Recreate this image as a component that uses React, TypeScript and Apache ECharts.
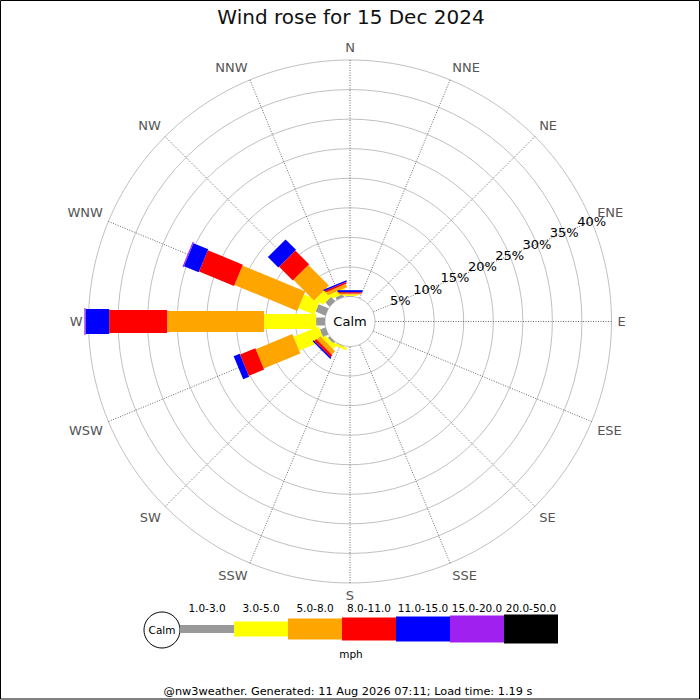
import React, { useEffect, useRef } from "react";
import * as echarts from "echarts";

const TITLE = "Wind rose for 15 Dec 2024";
const FOOTER = "@nw3weather. Generated: 11 Aug 2026 07:11; Load time: 1.19 s";
const DIRECTIONS = ["N", "NNE", "NE", "ENE", "E", "ESE", "SE", "SSE", "S", "SSW", "SW", "WSW", "W", "WNW", "NW", "NNW"];
const SPEED_BINS = ["1.0-3.0", "3.0-5.0", "5.0-8.0", "8.0-11.0", "11.0-15.0", "15.0-20.0", "20.0-50.0"];
const SPEED_UNIT = "mph";
const RADIUS_TICKS = [0, 5, 10, 15, 20, 25, 30, 35, 40];

// percentage of the day per direction (N..NNW) for each speed bin
const bin1 = [0.1, 0, 0, 0, 0, 0, 0, 0, 0, 0.1, 0.4, 1.0, 1.5, 1.8, 1.0, 0.5];
const bin2 = [0.24, 0, 0, 0, 0, 0, 0, 0, 0, 0.4, 0.7, 4.6, 8.8, 2.9, 1.6, 0.8];
const bin3 = [0.16, 0, 0, 0, 0, 0, 0, 0, 0, 0, 0.8, 6.7, 16.4, 11.5, 4.9, 0.6];
const bin4 = [0.23, 0, 0, 0, 0, 0, 0, 0, 0, 0, 0.45, 2.8, 9.8, 6.4, 3.3, 0.3];
const bin5 = [0.34, 0, 0, 0, 0, 0, 0, 0, 0, 0, 0.25, 1.1, 4.0, 2.7, 2.5, 0.25];
const bin6 = [0, 0, 0, 0, 0, 0, 0, 0, 0, 0, 0, 0, 0.2, 0.2, 0, 0];
const bin7 = [0, 0, 0, 0, 0, 0, 0, 0, 0, 0, 0, 0, 0, 0, 0, 0];
const BIN_VALUES = [bin1, bin2, bin3, bin4, bin5, bin6, bin7];

const BIN_COLORS = ["#999999", "#ffff00", "#ffa500", "#ff0000", "#0000ff", "#a020f0", "#000000"];
const BIN_WIDTHS = [8, 15, 21, 23, 25, 27, 29];

const FONT = "DejaVu Sans";
const CX = 350;
const CY = 321.5;
const R_IN = 25;
const R_OUT = 261.5;

export default function App() {
  const ref = useRef<HTMLDivElement>(null);
  useEffect(() => {
    document.body.style.margin = "0";
    if (!ref.current) return;
    const chart = echarts.init(ref.current, null, { renderer: "svg" });

    const step = 360 / DIRECTIONS.length;
    const rMin = RADIUS_TICKS[0];
    const rMax = RADIUS_TICKS[RADIUS_TICKS.length - 1];
    const rStep = RADIUS_TICKS[1] - RADIUS_TICKS[0];

    const cum = DIRECTIONS.map(() => 0);
    const series = BIN_VALUES.map((vals, b) => {
      const data = DIRECTIONS.map((_, i) => {
        const s = cum[i];
        const e = s + vals[i];
        cum[i] = e;
        return [i * step, s, e];
      });
      const hw = BIN_WIDTHS[b] / 2;
      const color = BIN_COLORS[b];
      return {
        type: "custom",
        name: SPEED_BINS[b],
        coordinateSystem: "polar",
        polarIndex: 0,
        encode: { angle: 0, radius: [1, 2] },
        data,
        z: 3 + b,
        renderItem: (params: any, api: any) => {
          const ang = api.value(0);
          const s = api.value(1);
          const e = api.value(2);
          if (!(e > s)) return null;
          const p0 = api.coord([s, ang]);
          const p1 = api.coord([e, ang]);
          const dx = p1[0] - p0[0];
          const dy = p1[1] - p0[1];
          const len = Math.hypot(dx, dy) || 1;
          const nx = (-dy / len) * hw;
          const ny = (dx / len) * hw;
          return {
            type: "polygon",
            shape: {
              points: [
                [p0[0] + nx, p0[1] + ny],
                [p1[0] + nx, p1[1] + ny],
                [p1[0] - nx, p1[1] - ny],
                [p0[0] - nx, p0[1] - ny],
              ],
            },
            style: { fill: color },
          };
        },
      };
    });

    // legend
    const legendX0 = 180;
    const legendW = 54;
    const legendCY = 629;
    const legendEls: any[] = [];
    SPEED_BINS.forEach((name, b) => {
      const x = legendX0 + b * legendW;
      const h = BIN_WIDTHS[b];
      legendEls.push({
        type: "rect",
        shape: { x, y: legendCY - h / 2, width: legendW, height: h },
        style: { fill: BIN_COLORS[b] },
      });
      legendEls.push({
        type: "text",
        x: x + legendW / 2,
        y: 608,
        style: { text: name, fill: "#000", font: `10.5px '${FONT}'`, align: "center", verticalAlign: "middle" },
      });
    });

    const pctLabel = (filter: (v: number) => boolean, idx: number, showMax: boolean) => ({
      polarIndex: idx,
      type: "value",
      min: rMin,
      max: rMax,
      interval: rStep,
      axisLine: { show: false },
      axisTick: { show: false },
      splitLine: { show: false },
      z: 20,
      axisLabel: {
        show: true,
        showMaxLabel: showMax,
        showMinLabel: false,
        rotate: 0,
        margin: 0,
        align: "center",
        verticalAlign: "middle",
        color: "#000",
        fontSize: 13,
        fontFamily: FONT,
        formatter: (v: number) => (filter(v) ? `${v}%` : ""),
      },
    });

    const option: any = {
      animation: false,
      backgroundColor: "#fff",
      polar: [
        { center: [CX, CY], radius: [R_IN, R_OUT] },
        { center: [CX, CY], radius: [R_IN, R_OUT] },
        { center: [CX, CY], radius: [R_IN, R_OUT] },
      ],
      angleAxis: [
        {
          polarIndex: 0,
          type: "value",
          min: 0,
          max: 360,
          interval: step,
          startAngle: 90,
          clockwise: true,
          axisLine: { show: false },
          axisTick: { show: false },
          axisLabel: {
            show: true,
            margin: 6,
            color: "#555",
            fontSize: 13,
            fontFamily: FONT,
            formatter: (v: number) => {
              const i = Math.round(v / step);
              return i >= DIRECTIONS.length ? "" : DIRECTIONS[i];
            },
          },
          splitLine: { show: true, lineStyle: { color: "#444", width: 0.8, type: [1, 1.5] } },
        },
        { polarIndex: 1, type: "value", min: 0, max: 360, startAngle: 22.5, show: false },
        { polarIndex: 2, type: "value", min: 0, max: 360, startAngle: 22.5, show: false },
      ],
      radiusAxis: [
        {
          polarIndex: 0,
          type: "value",
          min: rMin,
          max: rMax,
          interval: rStep,
          axisLine: { show: false },
          axisTick: { show: false },
          axisLabel: { show: false },
          splitLine: { show: true, lineStyle: { color: "#b0b0b0", width: 0.8 } },
        },
        pctLabel((v) => v > rMin && v < rMax, 1, false),
        pctLabel((v) => v === rMax, 2, true),
      ],
      series,
      graphic: [
        {
          type: "rect",
          shape: { x: 0.5, y: 0.5, width: 699, height: 698.5 },
          style: { fill: "none", stroke: "#000", lineWidth: 1 },
          z: 100,
        },
        {
          type: "text",
          x: 351,
          y: 17,
          style: { text: TITLE, fill: "#111", font: `20px '${FONT}'`, align: "center", verticalAlign: "middle" },
        },
        {
          type: "text",
          x: CX,
          y: CY,
          z: 50,
          style: { text: "Calm", fill: "#000", font: `13px '${FONT}'`, align: "center", verticalAlign: "middle" },
        },
        {
          type: "circle",
          shape: { cx: 162, cy: 630, r: 18 },
          style: { fill: "#fff", stroke: "#000", lineWidth: 1 },
        },
        {
          type: "text",
          x: 162,
          y: 630,
          style: { text: "Calm", fill: "#000", font: `10.5px '${FONT}'`, align: "center", verticalAlign: "middle" },
        },
        ...legendEls,
        {
          type: "text",
          x: 351,
          y: 654,
          style: { text: SPEED_UNIT, fill: "#000", font: `10.5px '${FONT}'`, align: "center", verticalAlign: "middle" },
        },
        {
          type: "text",
          x: 348,
          y: 691,
          style: { text: FOOTER, fill: "#000", font: `11.3px '${FONT}'`, align: "center", verticalAlign: "middle" },
        },
      ],
    };
    chart.setOption(option);
    return () => chart.dispose();
  }, []);
  return <div ref={ref} style={{ position: "fixed", left: 0, top: 0, width: 700, height: 700 }} />;
}
